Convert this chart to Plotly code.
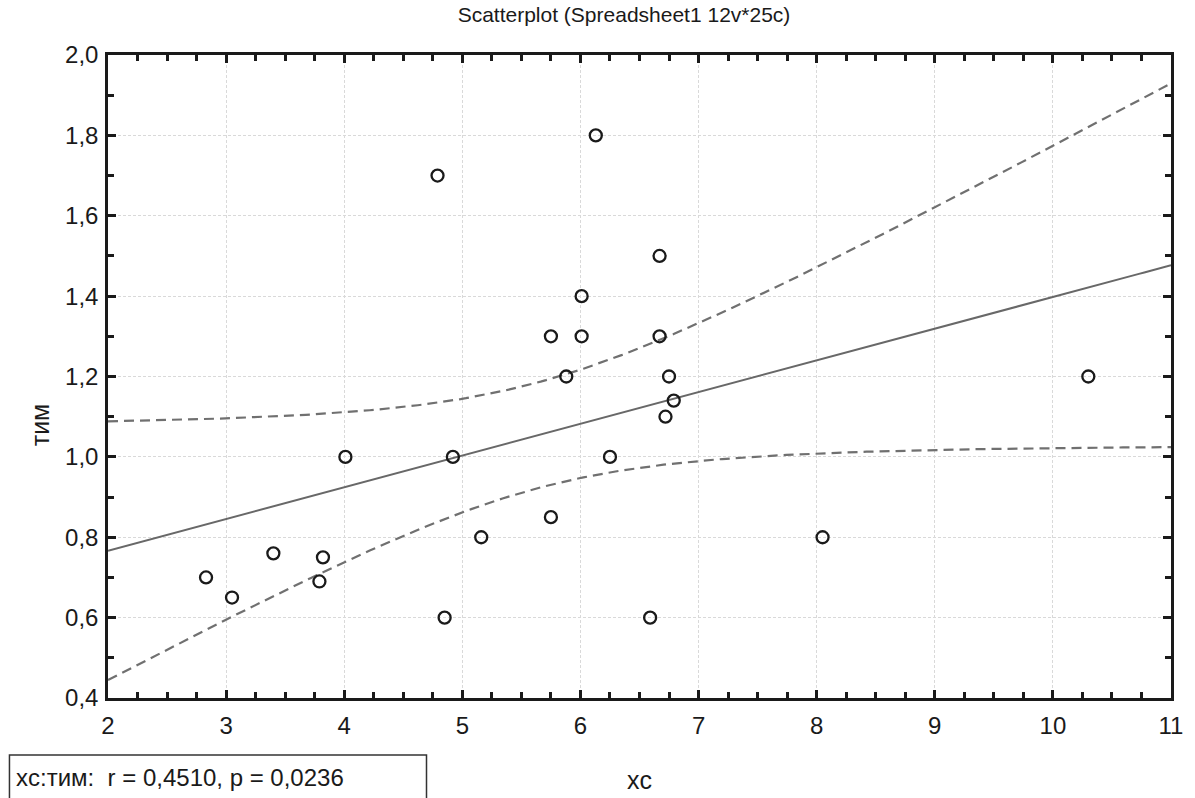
import numpy as np
import plotly.graph_objects as go

# Observations: xc (x) and тим (y), 25 cases
xc = [2.83, 3.05, 3.40, 3.82, 3.79, 4.01, 4.79, 4.85, 4.92, 5.16,
      5.75, 5.75, 5.88, 6.01, 6.01, 6.13, 6.25, 6.59, 6.67, 6.67,
      6.72, 6.75, 6.79, 8.05, 10.30]
tim = [0.70, 0.65, 0.76, 0.75, 0.69, 1.00, 1.70, 0.60, 1.00, 0.80,
       1.30, 0.85, 1.20, 1.40, 1.30, 1.80, 1.00, 0.60, 1.50, 1.30,
       1.10, 1.20, 1.14, 0.80, 1.20]

x_ticks = [2, 3, 4, 5, 6, 7, 8, 9, 10, 11]
y_ticks = [0.4, 0.6, 0.8, 1.0, 1.2, 1.4, 1.6, 1.8, 2.0]

title_text = "Scatterplot (Spreadsheet1 12v*25c)"
stat_text = "xc:тим:  r = 0,4510, p = 0,0236"

# Linear fit with 95% confidence band for the mean
x = np.array(xc)
y = np.array(tim)
n = len(x)
b, a = np.polyfit(x, y, 1)
resid = y - (a + b * x)
s = np.sqrt(np.sum(resid ** 2) / (n - 2))
sxx = np.sum((x - x.mean()) ** 2)
t_crit = 2.0687  # t(0.975, df=23)
xg = np.linspace(2, 11, 200)
yg = a + b * xg
half = t_crit * s * np.sqrt(1.0 / n + (xg - x.mean()) ** 2 / sxx)

FONT = "Liberation Sans, Arial, sans-serif"
INK = "#1a1a1a"

fig = go.Figure()
fig.add_trace(go.Scatter(x=xg, y=yg + half, mode="lines",
                         line=dict(color="#707070", width=2.2, dash="10px,6px"),
                         hoverinfo="skip", showlegend=False))
fig.add_trace(go.Scatter(x=xg, y=yg - half, mode="lines",
                         line=dict(color="#707070", width=2.2, dash="10px,6px"),
                         hoverinfo="skip", showlegend=False))
fig.add_trace(go.Scatter(x=xg, y=yg, mode="lines",
                         line=dict(color="#686868", width=2),
                         hoverinfo="skip", showlegend=False))
fig.add_trace(go.Scatter(x=xc, y=tim, mode="markers",
                         marker=dict(symbol="circle-open", size=12,
                                     line=dict(color=INK, width=2.3), color=INK),
                         showlegend=False))

fig.update_xaxes(
    range=[2, 11], tickmode="array", tickvals=x_ticks,
    ticktext=[str(v) for v in x_ticks],
    showline=True, linecolor=INK, linewidth=2.5, mirror="allticks",
    ticks="inside", ticklen=8, tickwidth=2.5, tickcolor=INK,
    minor=dict(dtick=0.25, ticks="inside", ticklen=6, tickwidth=2.5,
               tickcolor=INK, showgrid=False),
    showgrid=True, gridcolor="#d9d9d9", gridwidth=1, griddash="3px,2px",
    zeroline=False, ticklabelstandoff=4,
    tickfont=dict(family=FONT, size=24, color=INK),
)
fig.update_yaxes(
    range=[0.4, 2.0], tickmode="array", tickvals=y_ticks,
    ticktext=[f"{v:.1f}".replace(".", ",") for v in y_ticks],
    showline=True, linecolor=INK, linewidth=2.5, mirror="allticks",
    ticks="inside", ticklen=8, tickwidth=2.5, tickcolor=INK,
    minor=dict(dtick=0.1, ticks="inside", ticklen=6, tickwidth=2.5,
               tickcolor=INK, showgrid=False),
    showgrid=True, gridcolor="#d9d9d9", gridwidth=1, griddash="3px,2px",
    zeroline=False, ticklabelstandoff=2,
    tickfont=dict(family=FONT, size=24, color=INK),
)

fig.update_layout(
    width=1195, height=798,
    margin=dict(l=108, r=19, t=55, b=100),
    paper_bgcolor="white", plot_bgcolor="white",
    font=dict(family=FONT, color=INK),
    title=dict(text=title_text, x=624 / 1195, xanchor="center",
               y=1 - 15 / 798, yanchor="middle", yref="container",
               font=dict(family=FONT, size=21, color=INK)),
    annotations=[
        dict(text="xc", x=0.5, xref="paper", y=(698 - 780) / 643, yref="paper",
             showarrow=False, xanchor="center", yanchor="middle",
             font=dict(family=FONT, size=25, color=INK)),
        dict(text="тим", x=(40 - 108) / 1068, xref="paper",
             y=(698 - 425) / 643, yref="paper", textangle=-90,
             showarrow=False, xanchor="center", yanchor="middle",
             font=dict(family=FONT, size=25, color=INK)),
        dict(text=stat_text, x=(14 - 108) / 1068, xref="paper",
             y=(698 - 778) / 643, yref="paper",
             showarrow=False, xanchor="left", yanchor="middle",
             font=dict(family=FONT, size=24, color=INK)),
    ],
    shapes=[
        dict(type="path", xref="paper", yref="paper",
             path=f"M {(9 - 108) / 1068},{(698 - 805) / 643} "
                  f"L {(9 - 108) / 1068},{(698 - 755) / 643} "
                  f"L {(428 - 108) / 1068},{(698 - 755) / 643} "
                  f"L {(428 - 108) / 1068},{(698 - 805) / 643}",
             line=dict(color="#333333", width=1.5)),
    ],
)

fig.write_html("out.html")
